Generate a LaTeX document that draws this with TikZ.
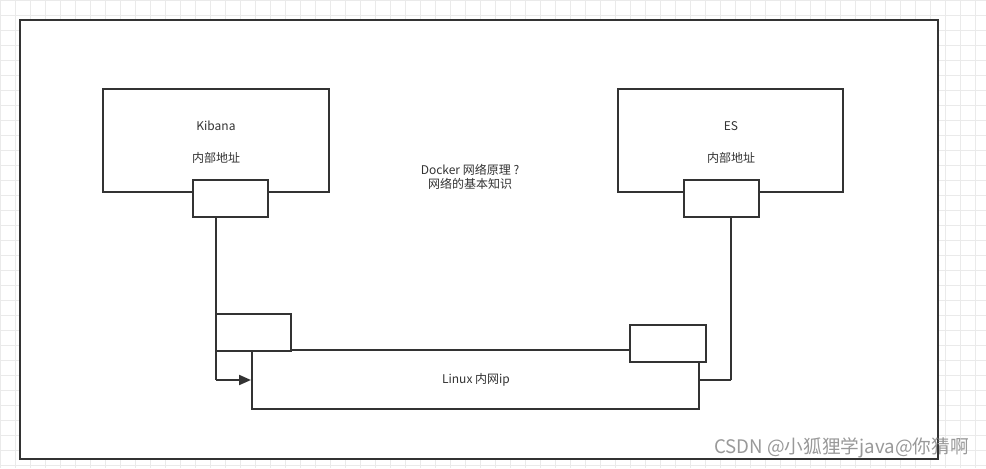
\documentclass[tikz,border=0pt]{standalone}
\usepackage{fontspec}
\setmainfont{Noto Sans CJK SC}
\usetikzlibrary{arrows.meta}
\definecolor{ink}{HTML}{333333}
\definecolor{gridc}{HTML}{EAEAEA}
\begin{document}
\begin{tikzpicture}[x=0.75pt,y=-0.75pt,
  box/.style={draw=ink,line width=1.5pt,fill=white},
  wire/.style={draw=ink,line width=1.5pt},
  lbl/.style={font=\fontsize{9}{11}\selectfont,text=ink,inner sep=0pt}]
\useasboundingbox (0,0) rectangle (986,468);
\fill[white] (0,0) rectangle (986,468);
\draw[gridc,line width=0.5pt,step=11.25pt] (0,0) grid (986,468);
% frame
\draw[box] (20,20) rectangle (938,459);
% main boxes
\draw[box] (103,89) rectangle (329,192);
\draw[box] (618,89) rectangle (843,192);
\node[lbl] (kib) at (216,126) {Kibana};
\node[lbl] (kibaddr) at (216,158) {内部地址};
\node[lbl] (es) at (731,126) {ES};
\node[lbl] (esaddr) at (731,158) {内部地址};
\node[lbl,align=center] (title) at (470,177) {Docker 网络原理 ?\\网络的基本知识};
% ports
\node[box,minimum width=56.25pt,minimum height=27.75pt,inner sep=0pt] (kport) at (230.5,198.5) {};
\node[box,minimum width=56.25pt,minimum height=27.75pt,inner sep=0pt] (eport) at (721.5,198.5) {};
% wires
\coordinate (lcorner) at (216,380);
\coordinate (rcorner) at (731,380);
\draw[wire] (216,217) -- (lcorner);
\draw[wire] (731,217) -- (rcorner);
% linux box
\node[box,minimum width=335.25pt,minimum height=44.25pt,inner sep=0pt] (linux) at (475.5,379.5) {};
\node[lbl] (linuxlbl) at (476,380) {Linux 内网ip};
% small boxes
\node[box,minimum width=56.25pt,minimum height=27.75pt,inner sep=0pt] (lsmall) at (253.5,332.5) {};
\node[box,minimum width=57pt,minimum height=27.75pt,inner sep=0pt] (rsmall) at (668,343.5) {};
\draw[wire,-{Triangle[length=9pt,width=7.5pt]}] (lcorner) -- (linux.west |- lcorner);
\draw[wire] (rcorner) -- (linux.east |- rcorner);
% watermark
\node[font=\fontsize{14}{16}\selectfont,text=black!40,anchor=east,inner sep=0pt] (wm) at (969,448) {CSDN @小狐狸学java@你猜啊};
\end{tikzpicture}
\end{document}
